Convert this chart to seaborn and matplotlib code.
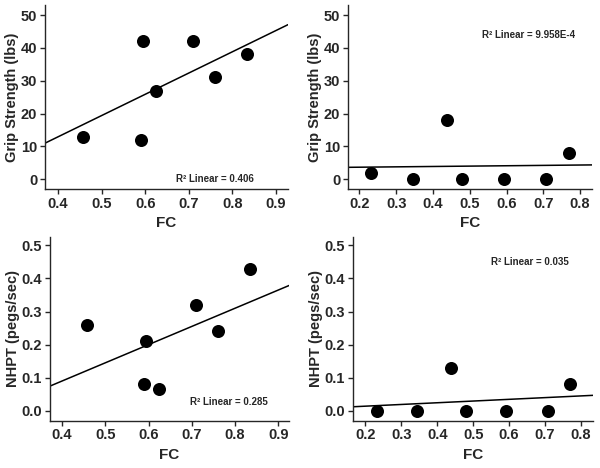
import numpy as np
import pandas as pd
import matplotlib
matplotlib.use("Agg")
import matplotlib.pyplot as plt
import seaborn as sns

# Dados
fc_a = [0.457, 0.59, 0.595, 0.625, 0.71, 0.76, 0.835]
grip_a = [13, 12, 42, 27, 42, 31, 38]
nhpt_a = [0.26, 0.08, 0.21, 0.065, 0.32, 0.24, 0.43]

fc_b = [0.232, 0.345, 0.438, 0.48, 0.592, 0.708, 0.77]
grip_b = [2, 0, 18, 0, 0, 0, 8]
nhpt_b = [0.0, 0.0, 0.13, 0.0, 0.0, 0.0, 0.08]

r2_labels = ['R\u00b2 Linear = 0.406', 'R\u00b2 Linear = 9.958E-4',
             'R\u00b2 Linear = 0.285', 'R\u00b2 Linear = 0.035']

sns.set_style("ticks")
plt.rcParams['font.family'] = ['Liberation Sans', 'DejaVu Sans']
plt.rcParams['font.weight'] = 'bold'

fig = plt.figure(figsize=(6, 4.68), dpi=100)

# posições dos eixos [left, bottom, width, height]
pos = [[0.075, 0.596, 0.405, 0.393],
       [0.58, 0.596, 0.407, 0.393],
       [0.083, 0.101, 0.399, 0.393],
       [0.588, 0.101, 0.400, 0.393]]

panels = [
    (fc_a, grip_a, 'Grip Strength (lbs)', (0.37, 0.928), (-3, 53), np.arange(0, 51, 10), np.arange(0.4, 0.91, 0.1), '%.0f', (0.70, 0.054)),
    (fc_b, grip_b, 'Grip Strength (lbs)', (0.169, 0.833), (-3, 53), np.arange(0, 51, 10), np.arange(0.2, 0.81, 0.1), '%.0f', (0.74, 0.837)),
    (fc_a, nhpt_a, 'NHPT (pegs/sec)', (0.372, 0.925), (-0.03, 0.526), np.arange(0, 0.51, 0.1), np.arange(0.4, 0.91, 0.1), '%.1f', (0.748, 0.10)),
    (fc_b, nhpt_b, 'NHPT (pegs/sec)', (0.165, 0.833), (-0.03, 0.526), np.arange(0, 0.51, 0.1), np.arange(0.2, 0.81, 0.1), '%.1f', (0.737, 0.862)),
]

for i, (x, y, ylab, xlim, ylim, yticks, xticks, yfmt, tpos) in enumerate(panels):
    ax = fig.add_axes(pos[i])
    ax.set_xlim(*xlim)
    ax.set_ylim(*ylim)
    df = pd.DataFrame({'FC': x, 'val': y})
    sns.regplot(data=df, x='FC', y='val', ax=ax, ci=None, truncate=False,
                scatter_kws={'s': 88, 'color': 'black', 'alpha': 1, 'linewidths': 0},
                line_kws={'color': 'black', 'lw': 1.1})
    ax.set_xlim(*xlim)
    ax.set_ylim(*ylim)
    ax.set_xticks(xticks)
    ax.set_yticks(yticks)
    ax.set_xticklabels(['%.1f' % t for t in xticks])
    ax.set_yticklabels([yfmt % t for t in yticks])
    ax.tick_params(labelsize=10.5, length=3.5, width=1, pad=2)
    ax.set_xlabel('FC', fontsize=11, fontweight='bold', labelpad=4)
    ax.set_ylabel(ylab, fontsize=10.5, fontweight='bold', labelpad=1)
    for s in ['top', 'right']:
        ax.spines[s].set_visible(False)
    for s in ['left', 'bottom']:
        ax.spines[s].set_linewidth(1)
    ax.text(tpos[0], tpos[1], r2_labels[i], transform=ax.transAxes, fontsize=7,
            fontweight='bold', ha='center', va='center')

fig.savefig('out.png', dpi=100)
